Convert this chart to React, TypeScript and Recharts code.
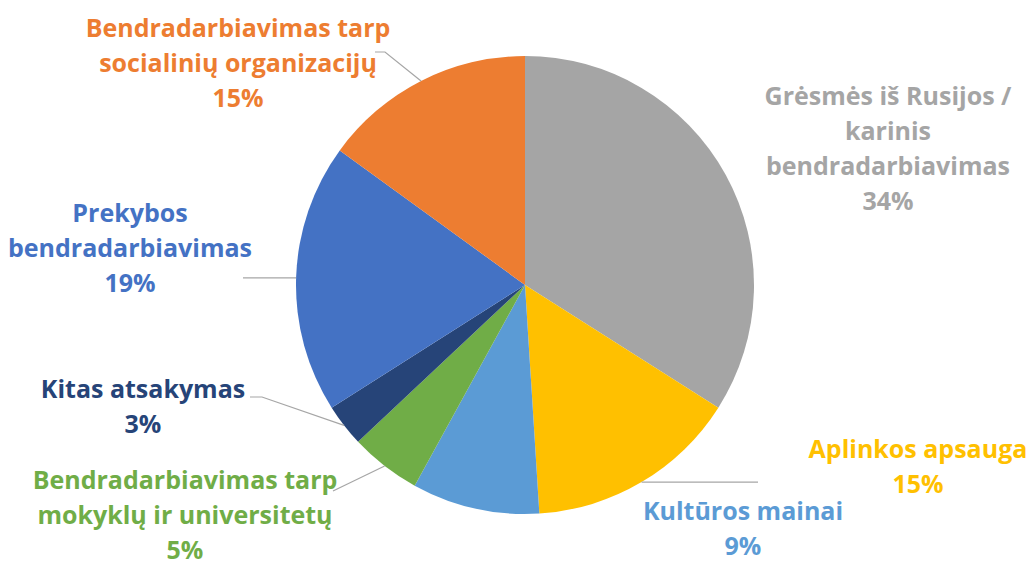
import React from "react";
import { PieChart, Pie, Cell } from "recharts";

const labels = [
  "Grėsmės iš Rusijos / karinis bendradarbiavimas",
  "Aplinkos apsauga",
  "Kultūros mainai",
  "Bendradarbiavimas tarp mokyklų ir universitetų",
  "Kitas atsakymas",
  "Prekybos bendradarbiavimas",
  "Bendradarbiavimas tarp socialinių organizacijų",
];
const shares = [34, 15, 9, 5, 3, 19, 15];
const colors = ["#A5A5A5", "#FFC000", "#5B9BD5", "#70AD47", "#264478", "#4472C4", "#ED7D31"];

// how each label is broken into lines
const labelLines = [
  ["Grėsmės iš Rusijos /", "karinis", "bendradarbiavimas"],
  ["Aplinkos apsauga"],
  ["Kultūros mainai"],
  ["Bendradarbiavimas tarp", "mokyklų ir universitetų"],
  ["Kitas atsakymas"],
  ["Prekybos", "bendradarbiavimas"],
  ["Bendradarbiavimas tarp", "socialinių organizacijų"],
];

// label placement (text block centre x, first line y) and leader line bends
const layout: { x: number; y: number; leader: [number, number | null][] }[] = [
  { x: 888, y: 95, leader: [] },
  { x: 918, y: 448, leader: [[758, null]] },
  { x: 743, y: 510, leader: [] },
  { x: 185, y: 479, leader: [[333, 491]] },
  { x: 143, y: 388, leader: [[262, 397], [250, 397]] },
  { x: 130, y: 212, leader: [[243, null]] },
  { x: 238, y: 27, leader: [[385, 52], [375, 52]] },
];

const data = labels.map((name, i) => ({ name, value: shares[i] }));

const RADIAN = Math.PI / 180;
const LINE_H = 35;

function renderLabel(props: any) {
  const { cx, cy, midAngle, outerRadius, index } = props;
  const l = layout[index];
  const ex = cx + outerRadius * Math.cos(-midAngle * RADIAN);
  const ey = cy + outerRadius * Math.sin(-midAngle * RADIAN);
  const pts = [[ex, ey], ...l.leader.map(([x, y]) => [x, y === null ? ey : y])];
  const lines = [...labelLines[index], `${shares[index]}%`];
  return (
    <g key={`lbl-${index}`}>
      {pts.length > 1 && (
        <polyline
          points={pts.map((p) => p.join(",")).join(" ")}
          fill="none"
          stroke="#A6A6A6"
          strokeWidth={1.2}
        />
      )}
      <text
        x={l.x}
        y={l.y}
        textAnchor="middle"
        dominantBaseline="central"
        fill={colors[index]}
        style={{ fontFamily: "'Open Sans', sans-serif", fontWeight: 700, fontSize: 25 }}
      >
        {lines.map((t, j) => (
          <tspan key={j} x={l.x} y={l.y + j * LINE_H}>
            {t}
          </tspan>
        ))}
      </text>
    </g>
  );
}

export default function App() {
  return (
    <div style={{ position: "absolute", left: 0, top: 0, width: 1033, height: 561, background: "#fff" }}>
      <style>{`.recharts-pie-sectors { filter: drop-shadow(1px 2px 2px rgba(0,0,0,0.25)); }`}</style>
      <PieChart width={1033} height={561} margin={{ top: 0, right: 0, bottom: 0, left: 0 }}>
        <Pie
          data={data}
          dataKey="value"
          nameKey="name"
          cx={525}
          cy={285}
          outerRadius={229}
          startAngle={90}
          endAngle={-270}
          stroke="none"
          label={renderLabel}
          labelLine={false}
          isAnimationActive={false}
        >
          {data.map((d, i) => (
            <Cell key={d.name} fill={colors[i]} />
          ))}
        </Pie>
      </PieChart>
    </div>
  );
}
